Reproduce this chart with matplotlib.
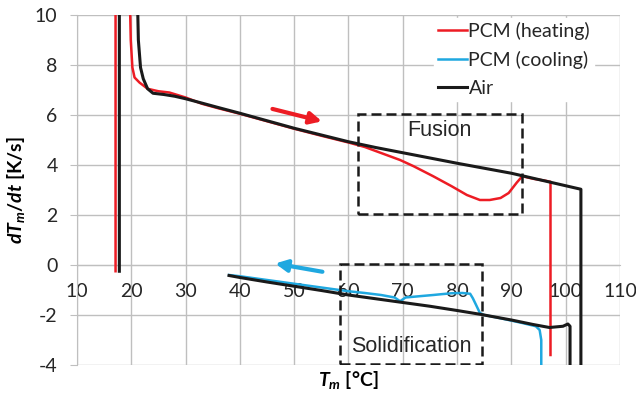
import matplotlib
matplotlib.use("Agg")
import matplotlib.pyplot as plt
from matplotlib.patches import Rectangle

plt.rcParams['font.family'] = ['Lato', 'DejaVu Sans']
plt.rcParams['mathtext.fontset'] = 'custom'
plt.rcParams['mathtext.it'] = 'Lato:italic:bold'
plt.rcParams['mathtext.rm'] = 'Lato:bold'
plt.rcParams['mathtext.bf'] = 'Lato:bold'
plt.rcParams['axes.unicode_minus'] = False

# ---- data ----
pcm_heat_T = [17.1, 17.1, 19.6, 19.9, 20.2, 20.6, 21.5, 23, 25, 27, 30, 33, 36, 40, 45, 50, 55, 60, 63, 66,
              69.5, 72, 75.6, 79, 81.8, 84.2, 86, 88, 89.5, 91, 92, 94, 96, 97.2, 97.2]
pcm_heat_r = [-0.25, 12, 12, 9, 7.9, 7.5, 7.3, 7.05, 6.95, 6.9, 6.7, 6.45, 6.27, 6.05, 5.75, 5.45, 5.17, 4.9,
              4.72, 4.48, 4.2, 3.95, 3.55, 3.15, 2.8, 2.6, 2.6, 2.68, 2.88, 3.3, 3.55, 3.45, 3.38, 3.33, -3.6]

pcm_cool_T = [95.5, 95.5, 95.2, 94.5, 92, 88, 85, 84.2, 83.5, 82.9, 82.4, 81, 79, 77, 75.6, 73, 70.5, 69.5,
              68.5, 66, 63, 60, 55, 50, 45, 40, 38]
pcm_cool_r = [-6, -3, -2.6, -2.45, -2.32, -2.13, -2.0, -1.92, -1.6, -1.33, -1.15, -1.12, -1.13, -1.17, -1.2,
              -1.25, -1.3, -1.45, -1.3, -1.2, -1.12, -1.05, -0.9, -0.75, -0.6, -0.45, -0.4]

air_T = [17.8, 17.8, 21.0, 21.3, 21.7, 22.2, 23, 24, 26, 28, 30, 32.6, 36, 40, 45, 50, 55, 60, 65, 70, 75, 80,
         85, 90, 95, 100, 102.8, 102.8, 100.8, 100.8, 100.4, 99.5, 97, 94, 90, 84.2, 80, 75, 70, 65, 60, 55,
         50, 45, 40, 38]
air_r = [-0.25, 12, 12, 9, 7.9, 7.45, 7.05, 6.87, 6.82, 6.75, 6.65, 6.5, 6.3, 6.07, 5.77, 5.47, 5.2, 4.93, 4.7,
         4.49, 4.28, 4.07, 3.87, 3.67, 3.42, 3.17, 3.03, -6, -6, -2.45, -2.36, -2.45, -2.5, -2.38, -2.2, -1.97,
         -1.82, -1.65, -1.5, -1.35, -1.2, -1.02, -0.85, -0.68, -0.5, -0.42]

x_ticks = [10, 20, 30, 40, 50, 60, 70, 80, 90, 100, 110]
y_ticks = [-4, -2, 0, 2, 4, 6, 8, 10]

RED = '#ed1c24'
BLUE = '#1fa8e0'
BLACK = '#1a1a1a'
GRID = '#bfbfbf'
TXT = '#262626'

fig = plt.figure(figsize=(6.36, 3.96), dpi=100)
ax = fig.add_axes([77/636, 1-365/396, 543/636, 350/396])

ax.plot(pcm_heat_T, pcm_heat_r, color=RED, lw=1.8, label='PCM (heating)', zorder=3)
ax.plot(pcm_cool_T, pcm_cool_r, color=BLUE, lw=1.8, label='PCM (cooling)', zorder=3)
ax.plot(air_T, air_r, color=BLACK, lw=2.2, label='Air', zorder=4)

ax.set_xlim(10, 110)
ax.set_ylim(-4, 10)
ax.set_xticks(x_ticks)
ax.set_yticks(y_ticks)
ax.grid(True, color=GRID, lw=1.0, zorder=0)
ax.set_axisbelow(True)

for s in ['top', 'right']:
    ax.spines[s].set_visible(False)
ax.spines['left'].set_color(GRID)
ax.spines['bottom'].set_color(GRID)
ax.spines['bottom'].set_position(('data', 0))
ax.tick_params(axis='y', length=5, color=GRID, pad=9, labelsize=14, labelcolor=TXT)
ax.tick_params(axis='x', length=0, pad=13, labelsize=14, labelcolor=TXT)

ax.set_xlabel('$T_m$ [°C]', fontsize=14, fontweight='bold')
ax.xaxis.set_label_coords(0.5, -0.012)
ax.set_ylabel('$dT_m/dt$ [K/s]', fontsize=14, fontweight='bold')
ax.yaxis.set_label_coords(-0.092, 0.5)

# dashed boxes
ax.add_patch(Rectangle((61.7, 2.05), 92 - 61.7, 6.05 - 2.05, fill=False, ls=(0, (4, 2)), lw=1.8,
                       ec=BLACK, zorder=5))
ax.add_patch(Rectangle((58.4, -3.95), 84.5 - 58.4, 0.04 + 3.95, fill=False, ls=(0, (4, 2)), lw=1.8,
                       ec=BLACK, zorder=5))
ax.text(76.7, 5.4, 'Fusion', fontsize=15.5, family='Liberation Sans', ha='center', va='center',
        color=TXT, zorder=6)
ax.text(71.6, -3.27, 'Solidification', fontsize=15.5, family='Liberation Sans', ha='center', va='center',
        color=TXT, zorder=6)

# arrows
ax.annotate('', xy=(55.6, 5.72), xytext=(45.5, 6.27),
            arrowprops=dict(arrowstyle='-|>,head_length=0.7,head_width=0.35', color=RED, lw=3))
ax.annotate('', xy=(46.0, 0.08), xytext=(55.7, -0.29),
            arrowprops=dict(arrowstyle='-|>,head_length=0.7,head_width=0.35', color=BLUE, lw=3))

leg = ax.legend(loc='upper right', bbox_to_anchor=(0.97, 1.02), fontsize=14, frameon=True,
                facecolor='white', edgecolor='white', framealpha=1, fancybox=False,
                handlelength=1.45, handletextpad=0.1, labelspacing=0.58, borderpad=0.2)
for t in leg.get_texts():
    t.set_color(TXT)
leg.set_zorder(7)

fig.savefig('out.png', dpi=100)
